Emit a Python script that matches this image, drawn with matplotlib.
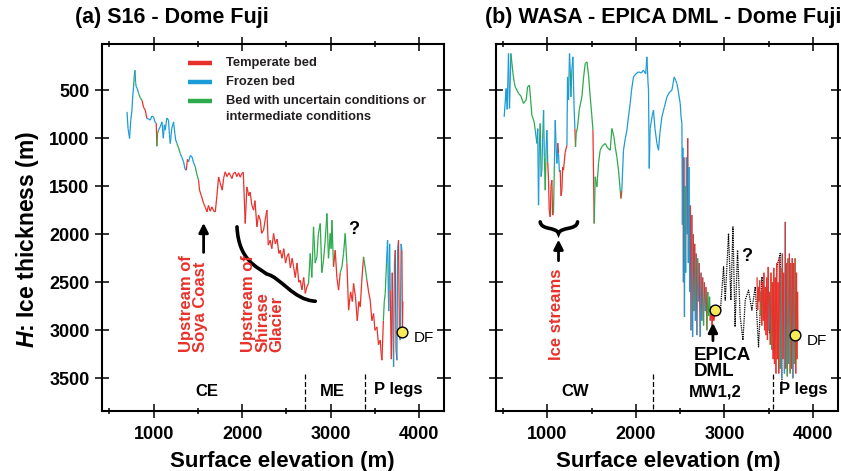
import numpy as np
import matplotlib
matplotlib.use("Agg")
import matplotlib.pyplot as plt
from matplotlib.collections import LineCollection
from matplotlib.path import Path
from matplotlib.patches import PathPatch

plt.rcParams['font.family'] = ['Liberation Sans', 'DejaVu Sans']
plt.rcParams['mathtext.fontset'] = 'custom'
plt.rcParams['mathtext.it'] = 'Liberation Sans:italic:bold'
plt.rcParams['mathtext.rm'] = 'Liberation Sans:bold'

# bed condition colours: T = temperate, F = frozen, U = uncertain / intermediate
bed_colors = {'T': '#E8312B', 'F': '#1B9BD7', 'U': '#2DAA4B'}

# ---- (a) S16 - Dome Fuji ----
elev_a = [700, 712, 729, 742, 756, 765, 774, 782, 790, 797,
          805, 815, 831, 850, 869, 888, 906, 925, 945, 963,
          980, 1000, 1015, 1030, 1038, 1045, 1056, 1075, 1095, 1110,
          1122, 1132, 1150, 1169, 1179, 1189, 1205, 1226, 1240, 1250,
          1264, 1282, 1301, 1320, 1339, 1355, 1369, 1383, 1395, 1415,
          1434, 1450, 1471, 1490, 1508, 1519, 1540, 1565, 1585, 1603,
          1620, 1640, 1659, 1680, 1697, 1715, 1734, 1750, 1776, 1790,
          1809, 1830, 1850, 1866, 1885, 1900, 1922, 1940, 1960, 1979,
          1995, 2013, 2035, 2054, 2075, 2090, 2110, 2129, 2145, 2167,
          2185, 2205, 2220, 2242, 2260, 2280, 2295, 2317, 2335, 2355,
          2375, 2395, 2415, 2430, 2450, 2470, 2490, 2506, 2525, 2545,
          2565, 2581, 2600, 2620, 2640, 2656, 2675, 2695, 2713, 2730,
          2750, 2769, 2787, 2806, 2825, 2845, 2860, 2882, 2900, 2919,
          2935, 2958, 2975, 2995, 3005, 3014, 3032, 3051, 3070, 3089,
          3108, 3127, 3145, 3164, 3183, 3202, 3225, 3245, 3258, 3280,
          3300, 3318, 3334, 3350, 3371, 3390, 3409, 3428, 3446, 3465,
          3484, 3500, 3522, 3540, 3560, 3570, 3579, 3595, 3605, 3616,
          3630, 3642, 3655, 3665, 3672, 3685, 3695, 3710, 3720, 3729,
          3738, 3748, 3756, 3766, 3776, 3785, 3795, 3804, 3810, 3815]
thick_a = [726, 900, 1003, 820, 708, 560, 466, 350, 292, 420,
           466, 480, 534, 580, 604, 680, 708, 795, 800, 812,
           770, 778, 830, 843, 1083, 950, 916, 880, 830, 1000,
           860, 916, 790, 812, 960, 1055, 900, 830, 950, 1020,
           1055, 1100, 1159, 1200, 1246, 1320, 1333, 1220, 1246, 1180,
           1194, 1250, 1298, 1380, 1437, 1541, 1600, 1679, 1720, 1767,
           1700, 1760, 1715, 1760, 1767, 1600, 1403, 1460, 1541, 1420,
           1350, 1400, 1360, 1385, 1420, 1370, 1354, 1400, 1360, 1406,
           1370, 1354, 1888, 1507, 1600, 1560, 1700, 1749, 1650, 1923,
           1800, 1853, 1990, 1957, 1850, 1749, 2113, 2062, 2150, 1992,
           2100, 2050, 2200, 2166, 2250, 2150, 2300, 2235, 2200, 2350,
           2250, 2339, 2450, 2300, 2500, 2478, 2580, 2450, 2616, 2550,
           2512, 2200, 2450, 1923, 2300, 2235, 2000, 1888, 2400, 2270,
           2100, 1783, 2250, 1992, 2150, 1853, 2339, 2166, 2450, 2582,
           2400, 2339, 2200, 1992, 2304, 2790, 2600, 2700, 2512, 2650,
           2900, 2700, 2756, 2500, 2235, 2350, 2478, 2600, 2686, 2900,
           2825, 3000, 2964, 3150, 3102, 3250, 3311, 2900, 2700, 2616,
           2300, 2062, 2800, 2100, 2582, 3300, 2400, 3380, 2300, 2166,
           3200, 3311, 2150, 2062, 3050, 3102, 2100, 2166, 3000, 2700]
bed_a = list("FFFFFFFUUF" "FFFUUTTTFF" "FFFFTUUFFF" "FFFFFFFFFF" "FUUFFFFTTF"
             "FFFUUTTTTT" "TTTTTTTTTT" "TTTTTTTTTT" "TTTTTTTTTT" "TTTTTTTTTT"
             "TTTTTTTTTT" "TTTTTTTTTT" "TUUUUUUUUU" "UUUUUUUTTT" "TUUUUTTTTT"
             "TTTTTUUTTT" "TTTTTTTTUU" "UFFFFTTTFF" "TTFFTTFFTT")

# ---- (b) WASA - EPICA DML - Dome Fuji ----
elev_b = [511, 533, 545, 560, 571, 587, 610, 625, 636, 673,
          700, 729, 760, 775, 797, 810, 824, 850, 862, 881,
          890, 899, 908, 918, 928, 937, 946, 956, 965, 975,
          985, 994, 1003, 1012, 1020, 1031, 1040, 1050, 1058, 1068,
          1078, 1088, 1098, 1107, 1117, 1125, 1135, 1144, 1153, 1163,
          1172, 1181, 1200, 1220, 1227, 1238, 1249, 1258, 1265, 1275,
          1288, 1295, 1302, 1310, 1317, 1325, 1340, 1360, 1389, 1410,
          1427, 1446, 1465, 1483, 1500, 1514, 1528, 1540, 1559, 1578,
          1596, 1620, 1653, 1680, 1709, 1728, 1750, 1766, 1785, 1803,
          1830, 1840, 1859, 1880, 1898, 1915, 1935, 1950, 1972, 2000,
          2029, 2060, 2085, 2110, 2124, 2135, 2142, 2150, 2160, 2169,
          2185, 2198, 2215, 2237, 2255, 2270, 2293, 2320, 2350, 2380,
          2406, 2420, 2432, 2450, 2463, 2480, 2500, 2510, 2519, 2525,
          2530, 2536, 2542, 2548, 2555, 2562, 2570, 2578, 2585, 2592,
          2600, 2608, 2615, 2622, 2632, 2640, 2648, 2656, 2664, 2672,
          2680, 2689, 2697, 2705, 2714, 2726, 2735, 2745, 2754, 2764,
          2773, 2783, 2792, 2802, 2812, 2822, 2832, 2839, 2850, 2860,
          2870, 2880, 2896]
thick_b = [778, 482, 700, 118, 690, 118, 326, 420, 466, 534,
           560, 638, 600, 466, 448, 600, 760, 830, 916, 1055,
           900, 1697, 1100, 847, 1400, 1333, 1000, 708, 1200, 1541,
           1100, 916, 1250, 1437, 1750, 1819, 1500, 1437, 1800, 1784,
           1300, 812, 1100, 1263, 1050, 1159, 1350, 1333, 1600, 1541,
           1300, 1333, 1150, 1073, 362, 600, 118, 300, 570, 300,
           153, 450, 708, 900, 1090, 950, 882, 700, 570, 350,
           222, 205, 350, 570, 750, 916, 1888, 1402, 1507, 1250,
           1125, 1080, 1055, 1100, 1125, 899, 980, 1090, 1200, 1333,
           1627, 1550, 1125, 1000, 916, 780, 638, 500, 362, 330,
           309, 320, 292, 330, 153, 400, 500, 1315, 900, 847,
           760, 708, 900, 1055, 1125, 950, 778, 680, 570, 520,
           500, 430, 362, 400, 430, 520, 638, 780, 847, 1900,
           1100, 2500, 1200, 2860, 1500, 2400, 1200, 2000, 1000, 2300,
           1300, 2600, 1700, 3000, 1800, 3068, 2000, 2800, 2100, 2900,
           2200, 3050, 2250, 2700, 2300, 3068, 2400, 2900, 2450, 2950,
           2500, 2800, 2550, 3000, 2600, 2850, 2650, 2900, 2750, 2950,
           2800, 2900, 2790]
bed_b = list("FFFFFFUUUU" "UUUUUUUUUF" "UFFFUFFUFU" "UFFTTTTTTT" "UFFFFTFFTT"
             "TTTTFFFFUF" "FFFFTUUUUU" "UUUUUUTUUU" "UUUUUUUUUU" "UTFFFFFFFF"
             "FFFFFFFFFF" "FFFFFFFFFF" "FFFFFFFFFF" "FFFTFUFFFT" "FFFTFTFTUT"
             "FTFUFTFTFT" "UTFTUUUUTT" "TTT")

# P legs (Dome Fuji side) of the WASA traverse
elev_p = [3368, 3375, 3383, 3390, 3398, 3406, 3414, 3422, 3430, 3438,
          3446, 3454, 3462, 3470, 3478, 3486, 3494, 3502, 3510, 3518,
          3526, 3534, 3542, 3550, 3558, 3566, 3574, 3582, 3590, 3598,
          3606, 3614, 3622, 3630, 3638, 3646, 3654, 3662, 3670, 3678,
          3687, 3694, 3702, 3710, 3718, 3726, 3734, 3742, 3750, 3758,
          3766, 3774, 3782, 3790, 3798, 3806, 3814, 3820, 3826, 3830]
thick_p = [2447, 2790, 2550, 2700, 2480, 2850, 2600, 2950, 2500, 2900,
           2400, 3000, 2550, 3050, 2450, 3100, 2340, 3000, 2600, 3150,
           2400, 3200, 2500, 3300, 2350, 3350, 2450, 3450, 2300, 3300,
           2500, 3450, 2250, 3400, 2350, 3500, 2200, 3300, 2400, 3450,
           1871, 3400, 2300, 3480, 2250, 3350, 2200, 3450, 2300, 3400,
           2250, 3500, 2300, 3350, 2250, 3450, 2400, 3300, 2600, 3000]
bed_p = list("TTTTTTUTTT" "TTTTTTTTFT" "TTUTTTTTTT" "TTTTUTFTTT" "FTTTUTFTUT"
             "TTFTUTTTTT")

# uncertain section between EPICA DML and the P legs (dotted)
elev_dot = [2896, 2952, 2990, 3009, 3046, 3073, 3096, 3120, 3148, 3178, 3209, 3235, 3272,
            3310, 3348, 3385, 3424, 3450, 3480, 3509, 3536, 3554, 3593, 3630, 3650]
thick_dot = [2790, 2825, 2339, 2686, 1992, 2686, 1923, 2964, 2166, 2860, 3102, 2686, 2582,
             2790, 2547, 3172, 2443, 2860, 2547, 3033, 2756, 3200, 2339, 2200, 3550]

# stations
df_elev, df_thick = 3803, 3015
df_elev_b, df_thick_b = 3800, 3050
edml_elev, edml_thick = 2896, 2790


def draw_profile(ax, elev, thick, bed, lw=0.9):
    pts = np.column_stack([elev, thick])
    segs = np.stack([pts[:-1], pts[1:]], axis=1)
    cols = [bed_colors[b] for b in bed[1:len(pts)]]
    ax.add_collection(LineCollection(segs, colors=cols, linewidths=lw))


def style_axes(ax, ylabels=True):
    ax.set_xlim(415, 4280)
    ax.set_ylim(3840, 20)
    ax.set_xticks([1000, 2000, 3000, 4000])
    ax.set_xticks(np.arange(500, 4001, 1000), minor=True)
    ax.set_yticks(np.arange(500, 3501, 500))
    ax.tick_params(which='both', direction='inout', top=True, right=True, width=1.1,
                   labelsize=13, labelleft=ylabels)
    ax.tick_params(which='major', length=9.5)
    ax.tick_params(which='minor', length=5)
    ax.tick_params(axis='x', pad=6)
    ax.tick_params(axis='y', pad=4)
    for lab in ax.get_xticklabels() + ax.get_yticklabels():
        lab.set_fontweight('bold')
    for s in ax.spines.values():
        s.set_linewidth(1.5)


def brace(ax, pts):
    codes = [Path.MOVETO] + [Path.CURVE4] * 6
    ax.add_patch(PathPatch(Path(pts, codes), fc='none', ec='black', lw=2.6,
                           capstyle='round'))


fig = plt.figure(figsize=(8.41, 4.71), dpi=100)
ax1 = fig.add_axes([0.121, 0.1274, 0.407, 0.779])
ax2 = fig.add_axes([0.5894, 0.1274, 0.4067, 0.779])

red = bed_colors['T']

# ---- panel a ----
draw_profile(ax1, elev_a, thick_a, bed_a)
ax1.scatter([df_elev], [df_thick], s=60, c='#F8EB5A', edgecolors='black', linewidths=1, zorder=5)
style_axes(ax1)

# legend drawn inside panel a
for yy, c in zip([222, 414, 611], ['T', 'F', 'U']):
    ax1.plot([1392, 1663], [yy, yy], color=bed_colors[c], lw=3.2, solid_capstyle='butt')
ax1.text(1821, 222, 'Temperate bed', fontsize=9.3, fontweight='bold', va='center', color='#231F20')
ax1.text(1821, 414, 'Frozen bed', fontsize=9.3, fontweight='bold', va='center', color='#231F20')
ax1.text(1821, 611, 'Bed with uncertain conditions or', fontsize=9.3, fontweight='bold',
         va='center', color='#231F20')
ax1.text(1821, 781, 'intermediate conditions', fontsize=9.3, fontweight='bold',
         va='center', color='#231F20')

ax1.text(3260, 1950, '?', fontsize=13, fontweight='bold', ha='center', va='center')
ax1.text(4050, 3085, 'DF', fontsize=11, ha='center', va='center')
ax1.annotate('', xy=(1565, 1853), xytext=(1565, 2218),
             arrowprops=dict(arrowstyle='-|>', color='black', lw=2, mutation_scale=14))
ax1.text(1452, 3224, 'Upstream of\nSoya Coast', rotation=90, ha='center', va='bottom',
         multialignment='left', color=red, fontsize=12, fontweight='bold', linespacing=0.95)
ax1.text(2235, 3224, 'Upstream of\nShirase\nGlacier', rotation=90, ha='center', va='bottom',
         multialignment='left', color=red, fontsize=12, fontweight='bold', linespacing=0.95)
brace(ax1, [(1942, 1923), (1960, 2270), (2167, 2339), (2280, 2415),
            (2430, 2444), (2581, 2686), (2826, 2697)])

for xd in [2713, 3389]:
    ax1.plot([xd, xd], [3450, 3840], color='black', lw=0.9, ls=(0, (4, 2)))
ax1.text(1604, 3640, 'CE', fontsize=12, fontweight='bold', ha='center', va='center')
ax1.text(3021, 3640, 'ME', fontsize=12, fontweight='bold', ha='center', va='center')
ax1.text(3767, 3620, 'P legs', fontsize=12, fontweight='bold', ha='center', va='center')

# ---- panel b ----
draw_profile(ax2, elev_b, thick_b, bed_b)
ax2.plot(elev_dot, thick_dot, color='black', lw=0.9, ls=(0, (1, 0.8)))
draw_profile(ax2, elev_p, thick_p, bed_p)
ax2.scatter([edml_elev, df_elev_b], [edml_thick, df_thick_b], s=60, c='#F8EB5A',
            edgecolors='black', linewidths=1, zorder=5)
style_axes(ax2, ylabels=False)

ax2.text(3254, 2235, '?', fontsize=13, fontweight='bold', ha='center', va='center')
ax2.text(4045, 3110, 'DF', fontsize=11, ha='center', va='center')
ax2.annotate('', xy=(1125, 2027), xytext=(1125, 2304),
             arrowprops=dict(arrowstyle='-|>', color='black', lw=2, mutation_scale=14))
ax2.text(1107, 3311, 'Ice streams', rotation=90, ha='center', va='bottom',
         color=red, fontsize=12, fontweight='bold')
brace(ax2, [(918, 1871), (930, 1960), (1100, 1920), (1125, 1992),
            (1150, 1920), (1330, 1960), (1340, 1871)])
ax2.annotate('', xy=(2870, 2894), xytext=(2870, 3137),
             arrowprops=dict(arrowstyle='-|>', color='black', lw=2, mutation_scale=14))
ax2.text(2650, 3172, 'EPICA\nDML', fontsize=13.5, fontweight='bold', ha='left', va='top',
         linespacing=0.95)

for xd in [2191, 3554]:
    ax2.plot([xd, xd], [3450, 3840], color='black', lw=0.9, ls=(0, (4, 2)))
ax2.text(1314, 3640, 'CW', fontsize=12, fontweight='bold', ha='center', va='center')
ax2.text(2896, 3640, 'MW1,2', fontsize=12, fontweight='bold', ha='center', va='center')
ax2.text(3893, 3620, 'P legs', fontsize=12, fontweight='bold', ha='center', va='center')

# labels and titles
for ax, xc in [(ax1, 0.527), (ax2, 0.504)]:
    ax.set_xlabel('Surface elevation (m)', fontsize=16, fontweight='bold')
    ax.xaxis.set_label_coords(xc, -0.108)
fig.text(28 / 841, 1 - 240 / 471, r'$H$: Ice thickness (m)', rotation=90, fontsize=16.5,
         fontweight='bold', ha='center', va='center')
fig.text(172 / 841, 1 - 17 / 471, '(a) S16 - Dome Fuji', fontsize=15.5, fontweight='bold',
         ha='center', va='center')
fig.text(663 / 841, 1 - 17 / 471, '(b) WASA - EPICA DML - Dome Fuji', fontsize=15.5,
         fontweight='bold', ha='center', va='center')

fig.savefig('out.png', dpi=100)
